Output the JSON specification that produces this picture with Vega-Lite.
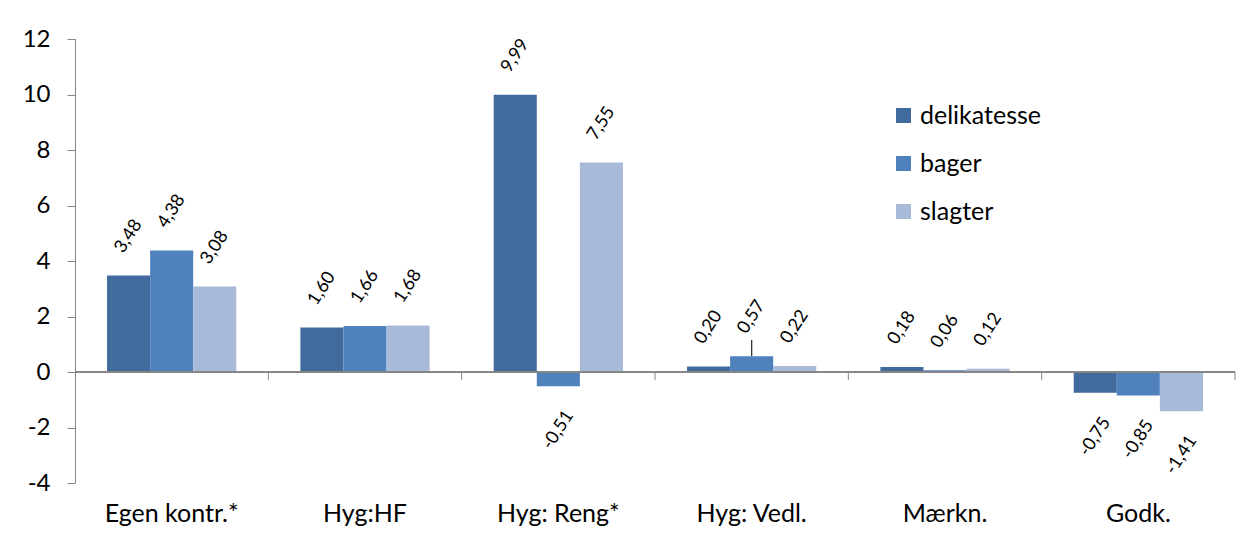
{
  "$schema": "https://vega.github.io/schema/vega-lite/v6.json",
  "width": 1160,
  "height": 444,
  "autosize": "none",
  "padding": {"left": 75, "top": 39, "right": 12, "bottom": 66},
  "background": "white",
  "config": {
    "font": "Lato",
    "view": {"stroke": null},
    "locale": {
      "number": {"decimal": ",", "thousands": ".", "grouping": [3], "currency": ["", " kr."], "minus": "-"}
    }
  },
  "datasets": {
    "scores": [
      {"category": "Egen kontr.*", "series": "delikatesse", "value": 3.48},
      {"category": "Egen kontr.*", "series": "bager", "value": 4.38},
      {"category": "Egen kontr.*", "series": "slagter", "value": 3.08},
      {"category": "Hyg:HF", "series": "delikatesse", "value": 1.60},
      {"category": "Hyg:HF", "series": "bager", "value": 1.66},
      {"category": "Hyg:HF", "series": "slagter", "value": 1.68},
      {"category": "Hyg: Reng*", "series": "delikatesse", "value": 9.99},
      {"category": "Hyg: Reng*", "series": "bager", "value": -0.51},
      {"category": "Hyg: Reng*", "series": "slagter", "value": 7.55},
      {"category": "Hyg: Vedl.", "series": "delikatesse", "value": 0.20},
      {"category": "Hyg: Vedl.", "series": "bager", "value": 0.57},
      {"category": "Hyg: Vedl.", "series": "slagter", "value": 0.22},
      {"category": "Mærkn.", "series": "delikatesse", "value": 0.18},
      {"category": "Mærkn.", "series": "bager", "value": 0.06},
      {"category": "Mærkn.", "series": "slagter", "value": 0.12},
      {"category": "Godk.", "series": "delikatesse", "value": -0.75},
      {"category": "Godk.", "series": "bager", "value": -0.85},
      {"category": "Godk.", "series": "slagter", "value": -1.41}
    ],
    "spread": [
      {"category": "Hyg: Vedl.", "series": "bager", "value": 0.57, "upper": 1.15}
    ]
  },
  "data": {"name": "scores"},
  "layer": [
    {
      "mark": {"type": "bar"},
      "encoding": {
        "x": {
          "field": "category",
          "type": "nominal",
          "sort": ["Egen kontr.*", "Hyg:HF", "Hyg: Reng*", "Hyg: Vedl.", "Mærkn.", "Godk."],
          "scale": {"paddingInner": 0, "paddingOuter": 0},
          "axis": {
            "title": null,
            "domain": false,
            "ticks": false,
            "labelAngle": 0,
            "labelFontSize": 25,
            "labelColor": "black",
            "labelPadding": 18
          }
        },
        "xOffset": {
          "field": "series",
          "type": "nominal",
          "scale": {"domain": ["delikatesse", "bager", "slagter"], "paddingInner": 0, "paddingOuter": 0.744}
        },
        "y": {
          "field": "value",
          "type": "quantitative",
          "scale": {"domain": [-4, 12], "nice": false},
          "axis": {
            "title": null,
            "values": [-4, -2, 0, 2, 4, 6, 8, 10, 12],
            "grid": false,
            "domainColor": "#868686",
            "tickColor": "#868686",
            "tickSize": 8,
            "labelFontSize": 24,
            "labelColor": "black",
            "labelPadding": 17
          }
        },
        "color": {
          "field": "series",
          "type": "nominal",
          "scale": {
            "domain": ["delikatesse", "bager", "slagter"],
            "range": ["#416A9D", "#4F81BD", "#A9B9D8"]
          },
          "legend": {
            "title": null,
            "orient": "none",
            "legendX": 816,
            "legendY": 64,
            "symbolType": "square",
            "symbolSize": 225,
            "symbolStrokeWidth": 0,
            "labelFontSize": 25,
            "labelColor": "black",
            "labelOffset": 4,
            "rowPadding": 22
          }
        }
      }
    },
    {
      "transform": [{"filter": "datum.value >= 0"}],
      "mark": {"type": "text", "angle": -57, "align": "center", "baseline": "middle", "fontSize": 18, "dx": 32.7, "dy": -21.2, "color": "black"},
      "encoding": {
        "x": {"field": "category", "type": "nominal", "sort": ["Egen kontr.*", "Hyg:HF", "Hyg: Reng*", "Hyg: Vedl.", "Mærkn.", "Godk."]},
        "xOffset": {"field": "series", "type": "nominal"},
        "y": {"field": "value", "type": "quantitative"},
        "text": {"field": "value", "type": "quantitative", "format": ".2f"}
      }
    },
    {
      "transform": [{"filter": "datum.value < 0"}],
      "mark": {"type": "text", "angle": -57, "align": "center", "baseline": "middle", "fontSize": 18, "dx": -36.9, "dy": 24.0, "color": "black"},
      "encoding": {
        "x": {"field": "category", "type": "nominal", "sort": ["Egen kontr.*", "Hyg:HF", "Hyg: Reng*", "Hyg: Vedl.", "Mærkn.", "Godk."]},
        "xOffset": {"field": "series", "type": "nominal"},
        "y": {"field": "value", "type": "quantitative"},
        "text": {"field": "value", "type": "quantitative", "format": ".2f"}
      }
    },
    {
      "data": {"name": "spread"},
      "mark": {"type": "rule", "color": "#333333", "strokeWidth": 1.3},
      "encoding": {
        "x": {"field": "category", "type": "nominal", "sort": ["Egen kontr.*", "Hyg:HF", "Hyg: Reng*", "Hyg: Vedl.", "Mærkn.", "Godk."]},
        "xOffset": {"field": "series", "type": "nominal"},
        "y": {"field": "value", "type": "quantitative"},
        "y2": {"field": "upper"}
      }
    },
    {
      "mark": {"type": "rule", "color": "#868686", "strokeWidth": 1},
      "encoding": {
        "y": {"datum": 0, "type": "quantitative"}
      }
    },
    {
      "transform": [{"filter": "datum.series === 'delikatesse'"}],
      "mark": {"type": "rule", "color": "#868686", "strokeWidth": 1},
      "encoding": {
        "x": {"field": "category", "type": "nominal", "bandPosition": 1, "sort": ["Egen kontr.*", "Hyg:HF", "Hyg: Reng*", "Hyg: Vedl.", "Mærkn.", "Godk."]},
        "y": {"datum": 0, "type": "quantitative"},
        "y2": {"datum": -0.29}
      }
    }
  ]
}
